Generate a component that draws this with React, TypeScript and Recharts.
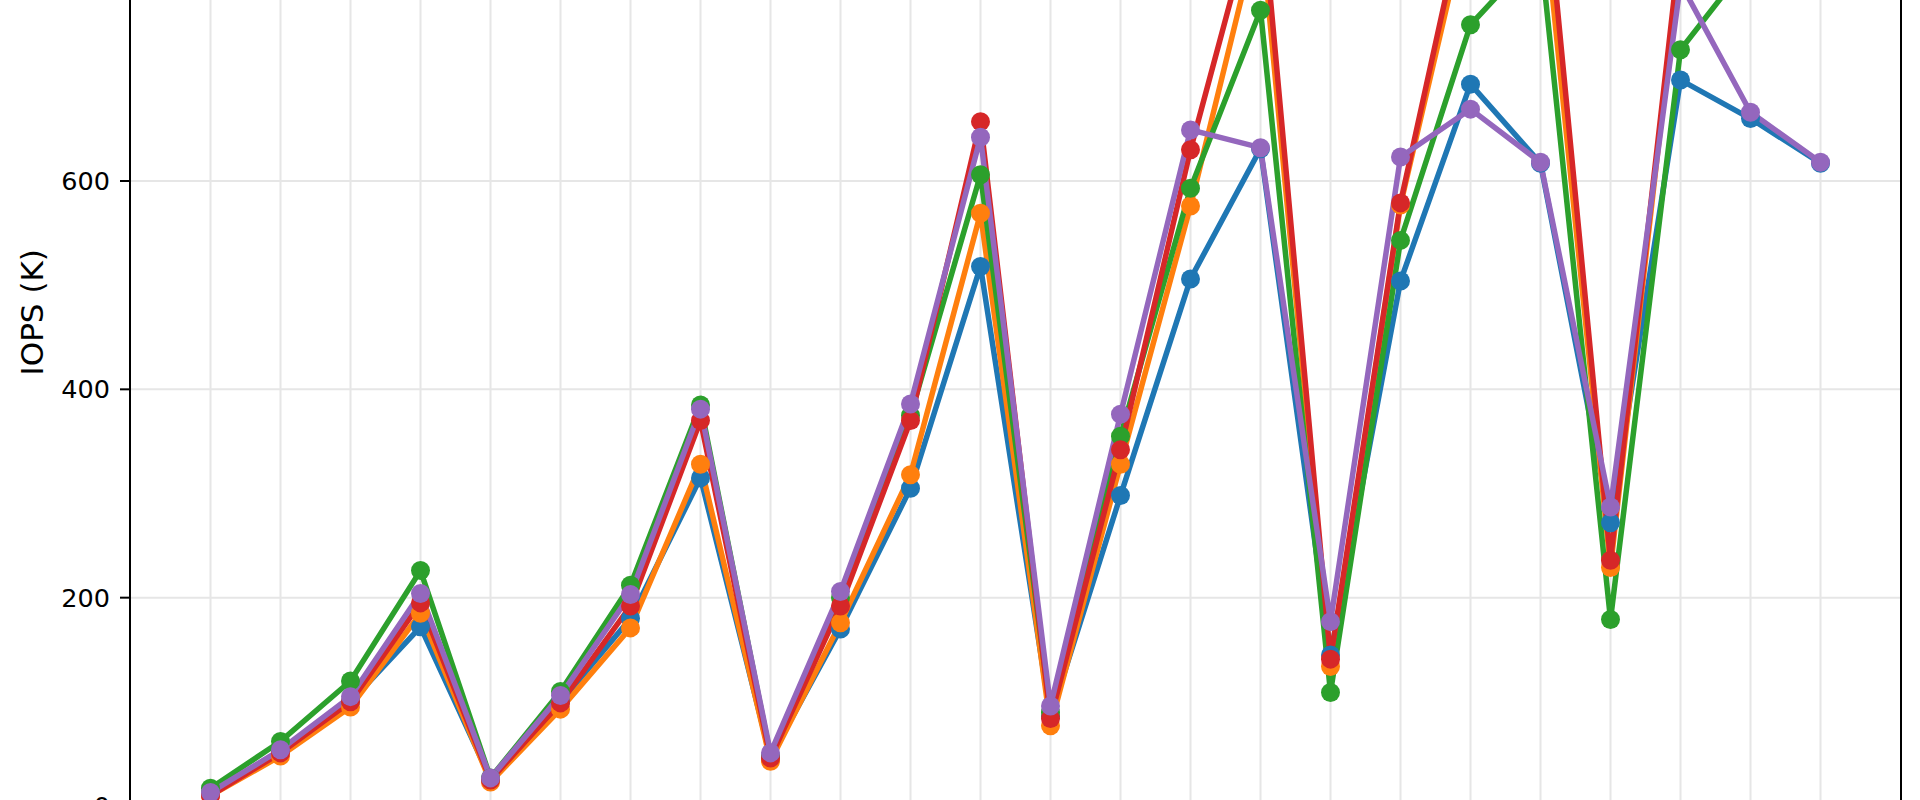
import { LineChart, Line, XAxis, YAxis, CartesianGrid, ReferenceLine } from 'recharts';

// x positions of the 24 test configurations (tick labels fall outside the crop)
const steps = [0, 1, 2, 3, 4, 5, 6, 7, 8, 9, 10, 11, 12, 13, 14, 15, 16, 17, 18, 19, 20, 21, 22, 23];

// IOPS (K) per series; values above ~775 are clipped in the crop
const blue = [12, 52, 100, 172, 26, 100, 180, 315, 47, 170, 305, 518, 86, 298, 506, 631, 145, 504, 693, 617, 272, 697, 660, 617];
const orange = [10, 48, 95, 185, 23, 93, 171, 328, 43, 176, 318, 569, 77, 328, 576, 850, 134, 577, 865, 890, 229, 820, 850, 860];
const green = [17, 62, 120, 226, 27, 110, 212, 385, 48, 200, 375, 606, 90, 355, 593, 764, 109, 543, 750, 822, 179, 726, 812, 830];
const red = [10, 51, 100, 195, 25, 99, 192, 370, 46, 192, 370, 657, 84, 342, 630, 880, 141, 579, 885, 935, 236, 830, 870, 880];
const purple = [13, 54, 105, 204, 27, 106, 203, 381, 51, 206, 386, 642, 96, 376, 649, 632, 177, 623, 669, 618, 287, 790, 666, 618];

const yTicks = [0, 200, 400, 600, 800];

const SERIES = [
  { key: 's1', values: blue, color: '#1f77b4' },
  { key: 's2', values: orange, color: '#ff7f0e' },
  { key: 's3', values: green, color: '#2ca02c' },
  { key: 's4', values: red, color: '#d62728' },
  { key: 's5', values: purple, color: '#9467bd' },
];

const data = steps.map((x, i) => {
  const row: Record<string, number> = { x };
  SERIES.forEach((s) => {
    row[s.key] = s.values[i];
  });
  return row;
});

const FONT = 'DejaVu Sans, sans-serif';

// x tick labels sit below the visible crop, so draw nothing for them
const NoTick = () => <g />;

export default function App() {
  return (
    <div
      style={{
        position: 'fixed',
        left: 0,
        top: 0,
        width: 1920,
        height: 800,
        overflow: 'hidden',
        background: '#fff',
        fontFamily: FONT,
      }}
    >
      <div style={{ position: 'absolute', left: 0, top: -260 }}>
        <LineChart width={1920} height={1200} data={data} margin={{ top: 41, right: 19, bottom: 76.5, left: 0 }}>
          <CartesianGrid stroke="#e6e6e6" strokeWidth={2} />
          <XAxis
            dataKey="x"
            type="number"
            domain={[-1.15, 24.15]}
            ticks={steps}
            interval={0}
            allowDataOverflow
            tick={NoTick}
            tickLine={false}
            height={20}
            axisLine={{ stroke: '#000', strokeWidth: 2 }}
          />
          <YAxis
            type="number"
            domain={[-36, 984]}
            ticks={yTicks}
            interval={0}
            allowDataOverflow
            width={130}
            tickSize={10}
            tickMargin={10}
            axisLine={{ stroke: '#000', strokeWidth: 2 }}
            tickLine={{ stroke: '#000', strokeWidth: 2 }}
            tick={{ fill: '#000', fontSize: 25.5, fontFamily: FONT }}
            label={{
              value: 'IOPS (K)',
              angle: -90,
              position: 'insideLeft',
              offset: 32,
              style: { textAnchor: 'middle', fontSize: 31, fill: '#000', fontFamily: FONT },
            }}
          />
          <ReferenceLine x={24.15} stroke="#000" strokeWidth={2} />
          {SERIES.map((s) => (
            <Line
              key={s.key}
              type="linear"
              dataKey={s.key}
              stroke={s.color}
              strokeWidth={5.5}
              dot={{ r: 9.5, fill: s.color, stroke: s.color, strokeWidth: 0 }}
              activeDot={false}
              isAnimationActive={false}
            />
          ))}
        </LineChart>
      </div>
    </div>
  );
}
